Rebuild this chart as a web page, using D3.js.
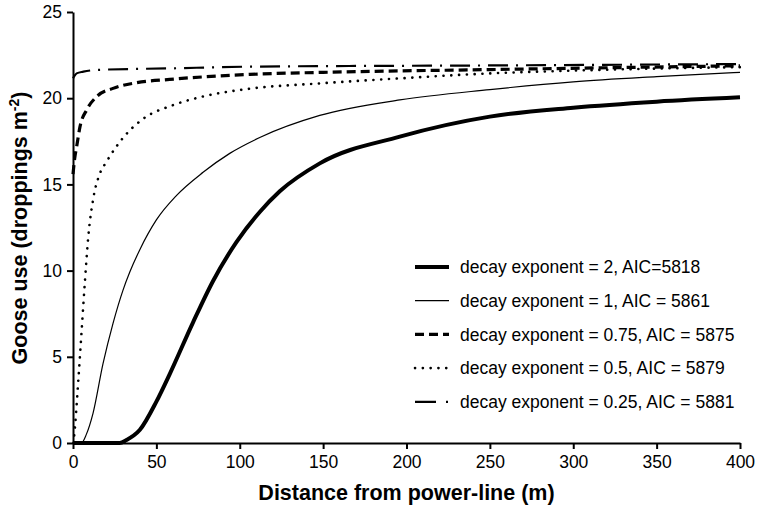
<!DOCTYPE html>
<meta charset="utf-8">
<script src="https://d3js.org/d3.v7.min.js"></script>
<style>
  body { margin: 0; background: #fff; }
  svg text { font-family: "Liberation Sans", Arial, sans-serif; fill: #000; }
  .axis path, .axis line { stroke: #000; stroke-width: 2px; }
  .axis text { font-size: 17.5px; }
</style>
<body>
<div id="chart"></div>
<script>
// values
var xTicks = [0, 50, 100, 150, 200, 250, 300, 350, 400];
var yTicks = [0, 5, 10, 15, 20, 25];

var exp2X = [0, 28, 32, 40, 50, 58, 72, 84, 98, 112, 124, 148, 196, 250, 300, 350, 400];
var exp2Y = [0, 0, 0.17, 0.75, 2.4, 4.0, 7.0, 9.4, 11.65, 13.4, 14.6, 16.22, 17.77, 18.93, 19.45, 19.8, 20.05];

var exp1X = [0, 5, 8, 12, 18, 24, 30, 34, 40, 50, 62, 78, 94, 112, 148, 196, 250, 300, 350, 400];
var exp1Y = [0, 0, 0.5, 1.72, 4.6, 6.94, 8.87, 9.9, 11.2, 12.94, 14.35, 15.7, 16.8, 17.72, 19.0, 19.9, 20.5, 20.95, 21.25, 21.5];

var exp075X = [0, 1, 2.2, 4.2, 8.2, 14.2, 24, 38, 58, 106, 150, 250, 400];
var exp075Y = [15.6, 16.5, 17.19, 18.35, 19.32, 20.09, 20.57, 20.9, 21.09, 21.38, 21.5, 21.66, 21.88];

var exp05X = [0.3, 1.2, 3.2, 5.2, 7.2, 9.2, 12.2, 16, 20, 30, 42, 60, 78, 106, 148, 196, 250, 300, 350, 400];
var exp05Y = [0, 0.95, 3.65, 6.55, 9.45, 12.0, 14.2, 15.6, 16.3, 17.7, 18.8, 19.6, 20.1, 20.55, 20.86, 21.15, 21.44, 21.6, 21.72, 21.8];

var exp025X = [0, 2.2, 6.2, 14, 58, 106, 250, 400];
var exp025Y = [21.15, 21.44, 21.54, 21.64, 21.73, 21.83, 21.9, 21.98];

var labels = [
  "decay exponent = 2, AIC=5818",
  "decay exponent = 1, AIC = 5861",
  "decay exponent = 0.75, AIC = 5875",
  "decay exponent = 0.5, AIC = 5879",
  "decay exponent = 0.25, AIC = 5881"
];

// line styles for each series
var styles = [
  {w: 4, dash: null, cap: "butt"},
  {w: 1.2, dash: null, cap: "butt"},
  {w: 3.2, dash: "9,5", cap: "butt"},
  {w: 2.6, dash: "0.1,7.7", cap: "round"},
  {w: 2.2, dash: "20,8,2,8", cap: "butt"}
];

var series = [
  {x: exp2X, y: exp2Y},
  {x: exp1X, y: exp1Y},
  {x: exp075X, y: exp075Y},
  {x: exp05X, y: exp05Y},
  {x: exp025X, y: exp025Y}
];

var width = 757, height = 510;
var margin = {left: 73, right: 17, top: 12, bottom: 67};

var svg = d3.select("#chart").append("svg")
    .attr("width", width)
    .attr("height", height);

var x = d3.scaleLinear().domain([0, 400]).range([margin.left, width - margin.right]);
var y = d3.scaleLinear().domain([0, 25]).range([height - margin.bottom, margin.top]);

var line = d3.line()
    .x(d => x(d[0]))
    .y(d => y(d[1]))
    .curve(d3.curveMonotoneX);

// curves
svg.append("g").selectAll("path")
    .data(series)
    .join("path")
      .attr("d", s => line(s.x.map((v, i) => [v, s.y[i]])))
      .attr("fill", "none")
      .attr("stroke", "#000")
      .attr("stroke-width", (s, i) => styles[i].w)
      .attr("stroke-dasharray", (s, i) => styles[i].dash)
      .attr("stroke-linecap", (s, i) => styles[i].cap);

// axes
svg.append("g")
    .attr("class", "axis")
    .attr("transform", "translate(0," + y(0) + ")")
    .call(d3.axisBottom(x).tickValues(xTicks).tickSize(6).tickPadding(4).tickSizeOuter(0))
    .call(g => g.selectAll("text").attr("dy", "0.85em"));

svg.append("g")
    .attr("class", "axis")
    .attr("transform", "translate(" + x(0) + ",0)")
    .call(d3.axisLeft(y).tickValues(yTicks).tickSize(6).tickPadding(5).tickSizeOuter(0));

// axis titles
svg.append("text")
    .attr("x", (x(0) + x(400)) / 2)
    .attr("y", 500)
    .attr("text-anchor", "middle")
    .attr("font-size", 21.5)
    .attr("font-weight", "bold")
    .text("Distance from power-line (m)");

var yt = svg.append("text")
    .attr("transform", "translate(27," + 228 + ") rotate(-90)")
    .attr("text-anchor", "middle")
    .attr("font-size", 21.5)
    .attr("font-weight", "bold");
yt.append("tspan").text("Goose use (droppings m");
yt.append("tspan").attr("dy", -8).attr("font-size", 14).text("-2");
yt.append("tspan").attr("dy", 8).text(")");

// legend
var legend = svg.append("g")
    .selectAll("g")
    .data(labels)
    .join("g")
      .attr("transform", (d, i) => "translate(415," + (267 + i * 33.7) + ")");

legend.append("line")
    .attr("x1", 0).attr("x2", 34)
    .attr("stroke", "#000")
    .attr("stroke-width", (d, i) => styles[i].w)
    .attr("stroke-dasharray", (d, i) => i === 4 ? "21,10,2,8" : styles[i].dash)
    .attr("stroke-linecap", (d, i) => styles[i].cap);

legend.append("text")
    .attr("x", 45)
    .attr("dy", "0.35em")
    .attr("font-size", 17.5)
    .text(d => d);
</script>
</body>
